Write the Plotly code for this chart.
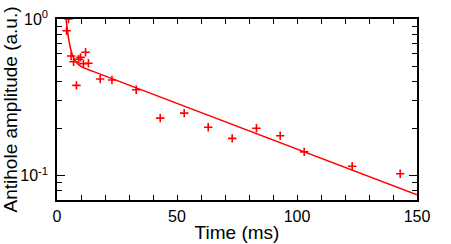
import plotly.graph_objects as go

# measured data points
time_ms = [4.0, 4.8, 5.9, 6.9, 8.1, 9.0, 9.8, 11.0, 11.9, 13.1, 18.0, 22.9,
           33.0, 43.0, 53.0, 63.0, 73.0, 83.1, 93.0, 103.0, 123.0, 143.0]
amplitude = [0.842, 1.0, 0.58, 0.534, 0.377, 0.553, 0.569, 0.519, 0.613, 0.522, 0.414, 0.408,
             0.354, 0.233, 0.251, 0.204, 0.173, 0.201, 0.180, 0.142, 0.115, 0.103]

# fit curve
fit_t = [3.8, 4.2, 4.6, 5.0, 5.5, 6.0, 7.0, 8.0, 9.0, 10.5, 12.0, 15.0, 150.0]
fit_y = [1.0, 0.884, 0.794, 0.726, 0.663, 0.619, 0.561, 0.530, 0.511, 0.493, 0.482, 0.463, 0.0756]

y_major = [0.1, 1]
y_major_text = ["10<sup>-1</sup>", "10<sup>0</sup>"]
y_minor = [0.07, 0.08, 0.09, 0.2, 0.3, 0.4, 0.5, 0.6, 0.7, 0.8, 0.9]

fig = go.Figure()
fig.add_trace(go.Scatter(x=fit_t, y=fit_y, mode="lines", line=dict(color="#ff0000", width=1.5),
                         line_shape="spline", showlegend=False))
fig.add_trace(go.Scatter(x=time_ms, y=amplitude, mode="markers",
                         marker=dict(symbol="cross-thin", size=6, line=dict(color="#ff0000", width=1.6)),
                         showlegend=False))

font = dict(family="Arial", size=16, color="black")
fig.update_layout(
    width=451, height=244,
    margin=dict(l=57, r=34, t=19, b=44),
    paper_bgcolor="white", plot_bgcolor="white",
    font=font,
    xaxis=dict(range=[0, 150], tickvals=[0, 50, 100, 150], ticks="inside", ticklen=5,
               tickwidth=1, tickcolor="black", showline=True, linecolor="black", linewidth=1.5,
               mirror="allticks", showgrid=False, zeroline=False, automargin=False,
               ticklabeloverflow="allow",
               minor=dict(dtick=10, ticks="inside", ticklen=5, tickcolor="black", showgrid=False),
               title=dict(text="Time (ms)", standoff=2), ticklabelstandoff=1),
    yaxis=dict(type="log", range=[-1.155, 0], tickvals=y_major, ticktext=y_major_text,
               ticks="inside", ticklen=8, tickwidth=1, tickcolor="black",
               showline=True, linecolor="black", linewidth=1.5, mirror="allticks",
               showgrid=False, zeroline=False, automargin=False,
               ticklabeloverflow="allow",
               minor=dict(tickvals=y_minor, ticks="inside", ticklen=5, tickcolor="black", showgrid=False),
               title=dict(text="Antihole amplitude (a.u.)", standoff=16), ticklabelstandoff=4),
)

fig.write_html("out.html", config={"displayModeBar": False},
               post_script="document.body.style.margin='0';")
